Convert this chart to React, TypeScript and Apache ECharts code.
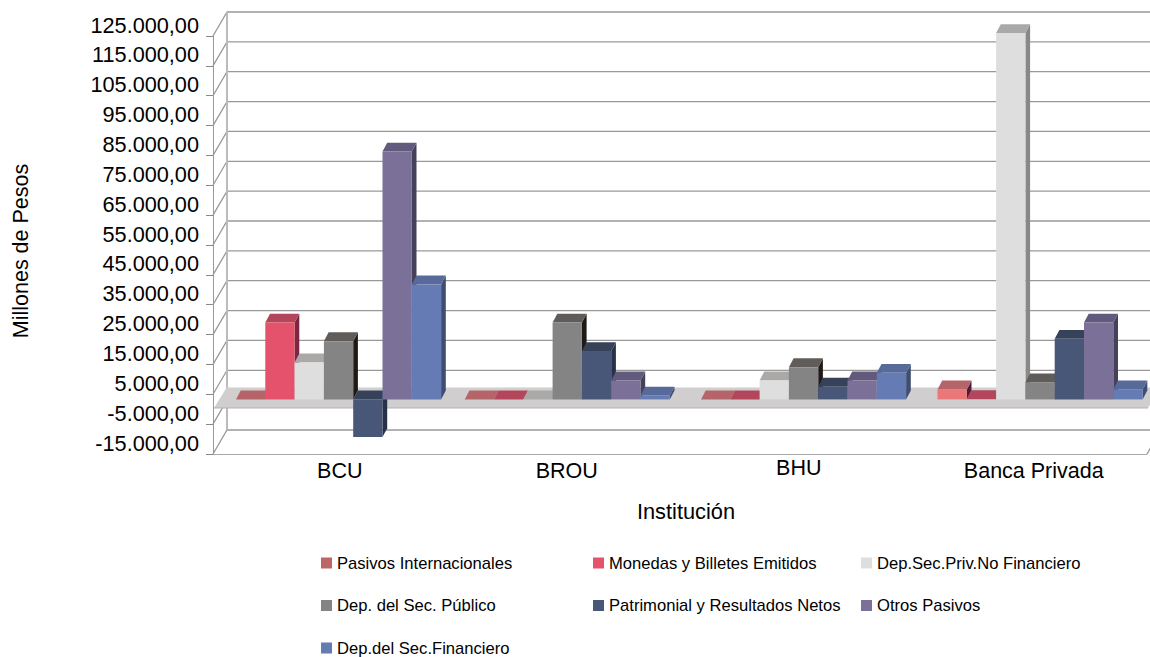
import React, { useEffect, useRef } from "react";
import * as echarts from "echarts";

const categories = ["BCU", "BROU", "BHU", "Banca Privada"];
const pasivosInternacionales = [0, 0, 0, 3350];
const monedasBilletes = [25750, 0, 0, 100];
const depPrivNoFinanciero = [12400, 0, 6350, 122700];
const depSecPublico = [19500, 25750, 10800, 5700];
const patrimonialResultados = [-12600, 16200, 4250, 20300];
const otrosPasivos = [83000, 6350, 6350, 25750];
const depSecFinanciero = [38500, 1300, 8900, 3350];
const tickValues = [-15000, -5000, 5000, 15000, 25000, 35000, 45000, 55000, 65000, 75000, 85000, 95000, 105000, 115000, 125000];

const FONT = "Liberation Sans, Arial, sans-serif";
const BAR_W = 29.3;
const DEPTH_X = 4.7;
const DEPTH_Y = 8.9;
const WALL_X = 14;
const WALL_Y = 24;
const BASE_LIFT = 9.8;
const groupShift = [8.8, 4, 6.8, 9.8];

const seriesDefs = [
  { name: "Pasivos Internacionales", values: pasivosInternacionales, legend: "#bd6668", front: "#ea7878", cap: "#b5656a", side: "#521b3d" },
  { name: "Monedas y Billetes Emitidos", values: monedasBilletes, legend: "#e5526b", front: "#e5526b", cap: "#b4465c", side: "#7b2643" },
  { name: "Dep.Sec.Priv.No Financiero", values: depPrivNoFinanciero, legend: "#dedede", front: "#dedede", cap: "#aaa9a8", side: "#888888" },
  { name: "Dep. del Sec. Público", values: depSecPublico, legend: "#848484", front: "#848484", cap: "#605c5a", side: "#1f1a17" },
  { name: "Patrimonial y Resultados Netos", values: patrimonialResultados, legend: "#485677", front: "#485677", cap: "#354259", side: "#263248" },
  { name: "Otros Pasivos", values: otrosPasivos, legend: "#7b7098", front: "#7b7098", cap: "#625a7c", side: "#45415a" },
  { name: "Dep.del Sec.Financiero", values: depSecFinanciero, legend: "#657bb3", front: "#657bb3", cap: "#576a99", side: "#3f4e70" },
];

const fmt = (v: number) => {
  const s = String(Math.abs(v)).replace(/\B(?=(\d{3})+$)/g, ".");
  return (v < 0 ? "-" : "") + s + ",00";
};

const poly = (points: number[][], fill: string) => ({
  type: "polygon",
  shape: { points },
  style: { fill, stroke: "none" },
});

const wallsItem = (params: any, api: any) => {
  const cs = params.coordSys;
  const v = api.value(0);
  const y = api.coord([0, v])[1];
  const x0 = cs.x;
  const x1 = cs.x + cs.width;
  const points = [[x0, y], [x0 + WALL_X, y - WALL_Y], [x1 + WALL_X, y - WALL_Y]];
  if (v === tickValues[0]) points.push([x1, y]);
  return {
    type: "polyline",
    shape: { points },
    style: { stroke: "#999999", lineWidth: 1.3, fill: "none" },
  };
};

const backEdgeItem = (params: any, api: any) => {
  const cs = params.coordSys;
  const yTop = api.coord([0, api.value(0)])[1];
  const yBot = api.coord([0, api.value(1)])[1];
  return {
    type: "line",
    shape: { x1: cs.x + WALL_X, y1: yTop - WALL_Y, x2: cs.x + WALL_X, y2: yBot - WALL_Y },
    style: { stroke: "#bbbbbb", lineWidth: 2 },
  };
};

const plateItem = (params: any, api: any) => {
  const cs = params.coordSys;
  const y0 = api.coord([0, 0])[1];
  const bottom = y0 - 1.2;
  const top = y0 - 21.8;
  const x0 = cs.x + 1;
  const x1 = cs.x + cs.width + 1;
  return {
    type: "group",
    children: [
      poly([[x0, bottom], [x0 + 12.7, top], [x1 + 12.7, top], [x1, bottom]], "#d0cecf"),
      {
        type: "line",
        shape: { x1: x0, y1: bottom, x2: x1, y2: bottom },
        style: { stroke: "#b5b3b4", lineWidth: 1 },
      },
    ],
  };
};

const barItem = (def: any, index: number) => (params: any, api: any) => {
  const cat = api.value(0);
  const val = api.value(1);
  const center = api.coord([cat, 0])[0];
  const x = center - (7 * BAR_W) / 2 + groupShift[cat] + index * BAR_W;
  const y0 = api.coord([cat, 0])[1] - BASE_LIFT;
  const yv = api.coord([cat, val])[1] - BASE_LIFT;
  const top = Math.min(y0, yv);
  const bot = Math.max(y0, yv);
  const r = x + BAR_W;
  return {
    type: "group",
    children: [
      poly([[r, top], [r + DEPTH_X, top - DEPTH_Y], [r + DEPTH_X, bot - DEPTH_Y], [r, bot]], val === 0 ? def.cap : def.side),
      poly([[x, top], [x + DEPTH_X, top - DEPTH_Y], [r + DEPTH_X, top - DEPTH_Y], [r, top]], def.cap),
      poly([[x, top], [r, top], [r, bot], [x, bot]], def.front),
    ],
  };
};

const legendCols = [
  { left: 321, names: ["Pasivos Internacionales", "Dep. del Sec. Público", "Dep.del Sec.Financiero"] },
  { left: 593, names: ["Monedas y Billetes Emitidos", "Patrimonial y Resultados Netos"] },
  { left: 861, names: ["Dep.Sec.Priv.No Financiero", "Otros Pasivos"] },
];

const labelPads = [
  [3, 0, 0, 20],
  [3, 0, 0, 7],
  [0, 0, 0, 4],
  [3, 0, 0, 7],
];

export default function App() {
  const ref = useRef<HTMLDivElement>(null);
  useEffect(() => {
    document.body.style.margin = "0";
    const chart = echarts.init(ref.current!, undefined, { renderer: "svg" });
    const rich: any = {};
    labelPads.forEach((p, i) => {
      rich["l" + i] = { fontSize: 21.5, fontFamily: FONT, color: "#000", padding: p };
    });
    chart.setOption({
      animation: false,
      backgroundColor: "#ffffff",
      grid: { left: 213, right: 3, top: 36, bottom: 203 },
      xAxis: {
        type: "category",
        data: categories,
        name: "Institución",
        nameLocation: "middle",
        nameGap: 46,
        nameTextStyle: { fontSize: 21.8, fontFamily: FONT, color: "#000", padding: [0, 0, 0, 12] },
        axisLine: { onZero: false, lineStyle: { color: "#aaaaaa", width: 1 } },
        axisTick: { length: 7, lineStyle: { color: "#888888" } },
        axisLabel: {
          margin: 3,
          formatter: (v: string, i: number) => `{l${i}|${v}}`,
          rich,
        },
      },
      yAxis: {
        type: "value",
        min: -15000,
        max: 125000,
        name: "Millones de Pesos",
        nameLocation: "middle",
        nameGap: 181,
        nameRotate: 90,
        nameTextStyle: { fontSize: 21.5, fontFamily: FONT, color: "#000", padding: [0, 12, 0, 0] },
        splitLine: { show: false },
        axisLine: { show: true, lineStyle: { color: "#999999", width: 1 } },
        axisTick: { show: true, length: 7, customValues: tickValues, lineStyle: { color: "#888888" } },
        axisLabel: {
          customValues: tickValues,
          margin: 14,
          fontSize: 21.7,
          fontFamily: FONT,
          color: "#000",
          verticalAlign: "bottom",
          formatter: (v: number) => fmt(v),
        },
      },
      legend: legendCols.map((c) => ({
        orient: "vertical",
        left: c.left,
        top: 553,
        height: 120,
        padding: 0,
        itemWidth: 11,
        itemHeight: 11,
        itemGap: 22.5,
        icon: "rect",
        selectedMode: false,
        data: c.names,
        textStyle: { fontSize: 16.6, fontFamily: FONT, color: "#000", lineHeight: 20 },
      })),
      series: [
        {
          type: "custom",
          name: "_walls",
          renderItem: wallsItem,
          data: tickValues.map((v) => [v]),
          encode: { y: 0 },
          silent: true,
          z: 1,
        },
        {
          type: "custom",
          name: "_edge",
          renderItem: backEdgeItem,
          data: [[tickValues[tickValues.length - 1], tickValues[0]]],
          encode: { y: [0, 1] },
          silent: true,
          z: 1,
        },
        {
          type: "custom",
          name: "_plate",
          renderItem: plateItem,
          data: [[0]],
          encode: { y: 0 },
          silent: true,
          z: 2,
        },
        ...seriesDefs.map((d, i) => ({
          type: "custom",
          name: d.name,
          itemStyle: { color: d.legend },
          renderItem: barItem(d, i),
          data: d.values.map((v, c) => [c, v]),
          encode: { x: 0, y: 1 },
          silent: true,
          z: 3,
        })),
      ],
    });
    return () => chart.dispose();
  }, []);
  return <div ref={ref} style={{ position: "fixed", left: 0, top: 0, width: 1150, height: 657 }} />;
}
